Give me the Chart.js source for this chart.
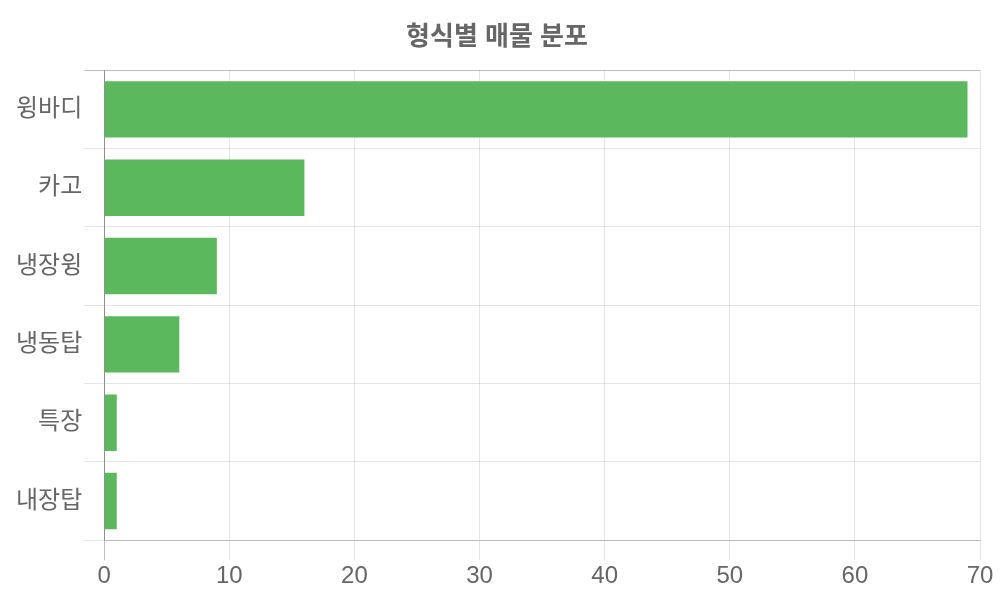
<!DOCTYPE html>
<html>
<head>
<meta charset="utf-8">
<script src="https://cdn.jsdelivr.net/npm/chart.js@4"></script>
<style>
  html, body { margin: 0; padding: 0; background: #fff; }
  #wrap { width: 1000px; height: 600px; }
</style>
</head>
<body>
<div id="wrap"><canvas id="grafica" width="1000" height="600"></canvas></div>
<script>
// 형식별 매물 수
const categorias = ["윙바디", "카고", "냉장윙", "냉동탑", "특장", "내장탑"];
const valores = [69, 16, 9, 6, 1, 1];
const titulo = "형식별 매물 분포";

const fuente = "'Liberation Sans', 'Noto Sans CJK KR', sans-serif";

// primera línea de la rejilla más oscura (estilo "zero line")
const colorRejilla = (c) => c.index === 0 ? "rgba(0,0,0,0.25)" : "rgba(0,0,0,0.1)";

const ctx = document.getElementById("grafica").getContext("2d");
const chart = new Chart(ctx, {
    type: "bar",
    data: {
        labels: categorias,
        datasets: [{
            label: "매물",
            data: valores,
            backgroundColor: "#5cb85c",
            borderWidth: 0
        }]
    },
    options: {
        indexAxis: "y",
        responsive: false,
        animation: false,
        layout: { padding: { left: 14, right: 20, top: 12, bottom: 7 } },
        plugins: {
            legend: { display: false },
            tooltip: { enabled: false },
            title: {
                display: true,
                text: titulo,
                color: "#666",
                font: { family: fuente, size: 26, weight: "bold" },
                padding: { top: 10, bottom: 17 }
            }
        },
        scales: {
            x: {
                min: 0,
                max: 70,
                ticks: { stepSize: 10, color: "#666", font: { family: fuente, size: 24 }, padding: 2 },
                grid: { color: colorRejilla, tickLength: 20 },
                border: { color: "rgba(0,0,0,0.2)" }
            },
            y: {
                ticks: { color: "#666", font: { family: fuente, size: 24 }, padding: 2 },
                grid: { color: colorRejilla, tickLength: 20 },
                border: { color: "rgba(0,0,0,0.25)" }
            }
        }
    }
});
</script>
</body>
</html>
